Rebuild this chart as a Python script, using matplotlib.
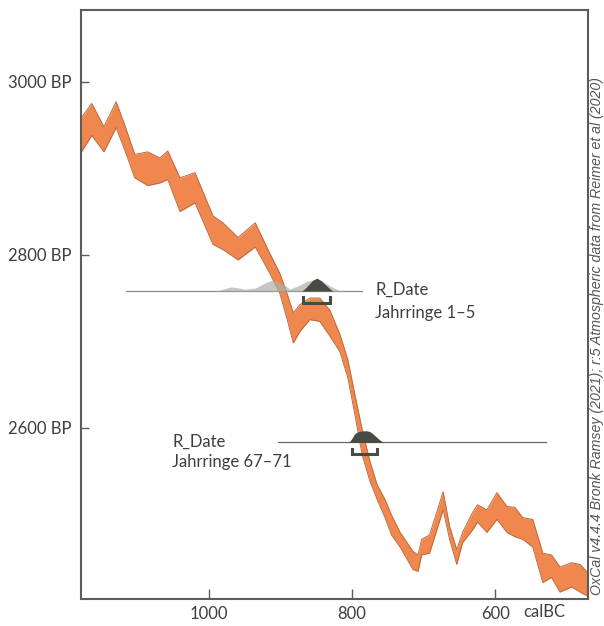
import matplotlib
matplotlib.use("Agg")
import matplotlib.pyplot as plt
import numpy as np

# ---- calibration curve (cal BC, BP upper / lower bounds) ----
cal_years = [1178,1163,1146,1129,1117,1103,1085,1068,1057,1040,1019,994,980,959,935,
             915,901,891,882,873,859,845,831,817,806,796,786,775,765,754,745,733,715,
             708,703,692,673,664,654,646,632,625,612,598,584,573,562,548,534,522,510,
             494,482,471]
curve_upper = [2958,2975,2948,2977,2950,2916,2919,2912,2920,2889,2895,2845,2837,2820,2837,
               2802,2779,2756,2733,2742,2750,2750,2736,2708,2679,2638,2598,2561,2534,2517,
               2499,2479,2457,2453,2471,2476,2526,2486,2459,2479,2502,2511,2505,2525,2509,
               2508,2496,2494,2455,2453,2439,2444,2442,2432]
curve_lower = [2918,2938,2919,2947,2921,2889,2880,2883,2887,2850,2860,2812,2806,2794,2809,
               2779,2756,2727,2698,2711,2725,2723,2706,2688,2658,2615,2569,2538,2517,2496,
               2476,2462,2436,2434,2453,2455,2505,2471,2442,2467,2482,2491,2479,2494,2479,
               2474,2471,2462,2421,2427,2410,2416,2410,2405]

# ---- R_Date 1: Jahrringe 1-5 ----
d1_label = ["R_Date", "Jahrringe 1\u20135"]
d1_bp = 2758
d1_range = [1115, 786]
d1_prior_x = [991,980,968,949,935,922,912,894,887,876,862,855,842,828,817,810]
d1_prior_h = [0,2.3,4.9,2.3,3.5,9.2,12.7,6.9,2.3,5.8,11.6,12.7,11.6,4.6,0.6,0]
d1_post_x = [870,865,860,855,849,843,838,832,827]
d1_post_h = [0,3.5,8,12.5,15,12,8,3.5,0]
d1_bracket = [869, 831]

# ---- R_Date 2: Jahrringe 67-71 ----
d2_label = ["R_Date", "Jahrringe 67\u201371"]
d2_bp = 2583
d2_range = [903, 529]
d2_post_x = [806,803,800,797,793,789,784,779,775,771,767,763,759,756]
d2_post_h = [0,1.5,5,9.5,12,13,13.5,13.5,12.5,10,7,4,1.5,0]
d2_bracket = [800, 765]

x_ticks = [1000, 800, 600]
x_ticklabels = ["1000", "800", "600"]
y_ticks = [2600, 2800, 3000]
y_ticklabels = ["2600 BP", "2800 BP", "3000 BP"]
credit = "OxCal v4.4.4 Bronk Ramsey (2021); r:5 Atmospheric data from Reimer et al (2020)"

plt.rcParams['font.family'] = ['Lato', 'DejaVu Sans']
TXT = '#3e3e3c'
FRAME = '#5d5d58'
ORANGE = '#F0874F'
ORANGE_EDGE = '#BE6A3E'
DARK = '#4b4944'
LIGHT = '#aeaea9'

fig = plt.figure(figsize=(6.04, 6.26), dpi=100)
ax = fig.add_axes([81/604, 1-599/626, (588-81)/604, (599-10)/626])

ax.fill_between(cal_years, curve_lower, curve_upper, color=ORANGE, lw=0, zorder=2)
ax.plot(cal_years, curve_upper, color=ORANGE_EDGE, lw=0.7, zorder=2.1)
ax.plot(cal_years, curve_lower, color=ORANGE_EDGE, lw=0.7, zorder=2.1)

# distribution 1
ax.plot(d1_range, [d1_bp, d1_bp], color='#8a8a86', lw=0.9, zorder=3)
ax.fill_between(d1_prior_x, d1_bp, d1_bp + np.array(d1_prior_h), color=LIGHT, alpha=0.7, lw=0, zorder=3.5)
ax.fill_between(d1_post_x, d1_bp, d1_bp + np.array(d1_post_h), color=DARK, lw=0, zorder=4)
b = d1_bracket
ax.plot([b[0], b[0], b[1], b[1]], [d1_bp-7, d1_bp-13.5, d1_bp-13.5, d1_bp-7], color=DARK, lw=2.2,
        solid_joinstyle='miter', zorder=4)
ax.text(768, 2760, d1_label[0], fontsize=12, color=TXT, va='center', ha='left')
ax.text(768, 2733, d1_label[1], fontsize=12, color=TXT, va='center', ha='left')

# distribution 2
ax.plot(d2_range, [d2_bp, d2_bp], color='#6a6a66', lw=0.9, zorder=3)
ax.fill_between(d2_post_x, d2_bp, d2_bp + np.array(d2_post_h), color=DARK, lw=0, zorder=4)
b = d2_bracket
ax.plot([b[0], b[0], b[1], b[1]], [d2_bp-7, d2_bp-13.5, d2_bp-13.5, d2_bp-7], color=DARK, lw=2.2,
        solid_joinstyle='miter', zorder=4)
ax.text(1051, 2584, d2_label[0], fontsize=12, color=TXT, va='center', ha='left')
ax.text(1051, 2560, d2_label[1], fontsize=12, color=TXT, va='center', ha='left')

ax.set_xlim(1178, 471)
ax.set_ylim(2402, 3083)
ax.set_xticks(x_ticks)
ax.set_xticklabels(x_ticklabels)
ax.set_yticks(y_ticks)
ax.set_yticklabels(y_ticklabels)
ax.tick_params(axis='y', direction='in', length=6, width=1, color=FRAME, pad=6.5,
               labelsize=12, labelcolor=TXT)
ax.tick_params(axis='x', direction='in', length=7, width=1, color=FRAME, pad=5,
               labelsize=12, labelcolor=TXT)
for s in ax.spines.values():
    s.set_color(FRAME)
    s.set_linewidth(1.5)

fig.text(565/604, 1-612/626, "calBC", fontsize=12, color=TXT, ha='right', va='center')

fig.text(597/604, 1-336/626, credit, rotation=90, fontsize=10.2, style='italic',
         family='Liberation Sans', color='#555553', ha='center', va='center')

fig.savefig("out.png", dpi=100)
